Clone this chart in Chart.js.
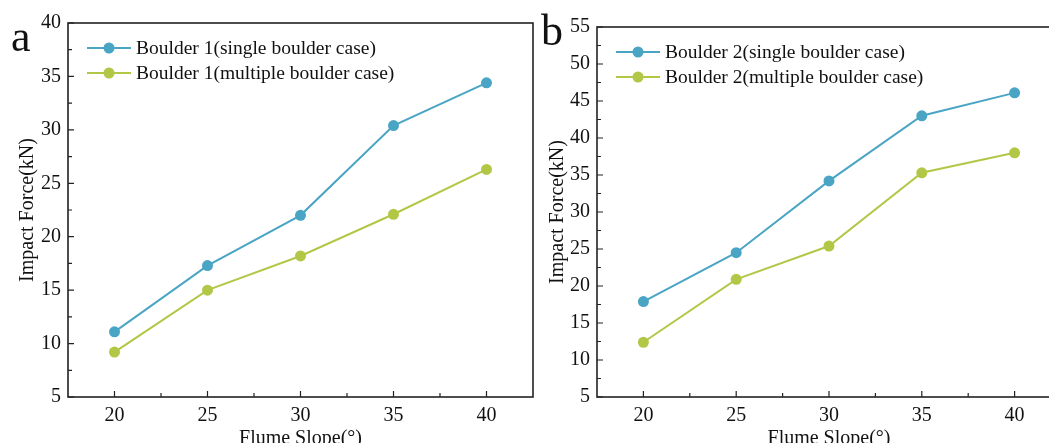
<!DOCTYPE html>
<html>
<head>
<meta charset="utf-8">
<script src="https://cdn.jsdelivr.net/npm/chart.js@4/dist/chart.umd.min.js"></script>
<style>
  html, body { margin: 0; padding: 0; background: #fff; overflow: hidden; width: 1049px; height: 443px; }
  .panel { position: absolute; top: 0; }
</style>
</head>
<body>
<div class="panel" style="left:0px"><canvas id="chartA" width="545" height="460"></canvas></div>
<div class="panel" style="left:530px"><canvas id="chartB" width="545" height="460"></canvas></div>
<script>
// --- Data ---
const slopes = [20, 25, 30, 35, 40];
const xTicks = [20, 25, 30, 35, 40];

const singleA = [11.1, 17.3, 22.0, 30.4, 34.4];
const multiA  = [9.2, 15.0, 18.2, 22.1, 26.3];
const yTicksA = [5, 10, 15, 20, 25, 30, 35, 40];

const singleB = [17.9, 24.5, 34.2, 43.0, 46.1];
const multiB  = [12.4, 20.9, 25.4, 35.3, 38.0];
const yTicksB = [5, 10, 15, 20, 25, 30, 35, 40, 45, 50, 55];

const BLUE = '#4aa5c5';
const GREEN = '#b3c747';
const SERIF = '"Liberation Serif", "Times New Roman", serif';

function toPoints(vals) {
    return slopes.map((s, i) => ({ x: s, y: vals[i] }));
}

// frame, inward ticks, legend and panel letter
function decorPlugin(letter, letterPos) {
    return {
        id: 'decor',
        afterDraw(chart) {
            const ctx = chart.ctx;
            const a = chart.chartArea;
            const x = chart.scales.x, y = chart.scales.y;
            ctx.save();
            ctx.strokeStyle = '#222';
            ctx.lineWidth = 1.6;
            ctx.strokeRect(a.left, a.top, a.right - a.left, a.bottom - a.top);

            ctx.lineWidth = 1.2;
            ctx.beginPath();
            xTicks.forEach((v, i) => {
                const px = x.getPixelForValue(v);
                ctx.moveTo(px, a.bottom); ctx.lineTo(px, a.bottom - 6);
                if (i < xTicks.length - 1) {
                    const mx = x.getPixelForValue(v + 2.5);
                    ctx.moveTo(mx, a.bottom); ctx.lineTo(mx, a.bottom - 4);
                }
            });
            const yt = y.ticks.map(t => t.value);
            yt.forEach((v, i) => {
                const py = y.getPixelForValue(v);
                ctx.moveTo(a.left, py); ctx.lineTo(a.left + 6, py);
                if (i < yt.length - 1) {
                    const my = y.getPixelForValue(v + 2.5);
                    ctx.moveTo(a.left, my); ctx.lineTo(a.left + 4, my);
                }
            });
            ctx.stroke();

            // legend
            ctx.font = '19.5px ' + SERIF;
            ctx.textBaseline = 'middle';
            chart.data.datasets.forEach((ds, i) => {
                const ly = a.top + 25 + i * 25;
                const x0 = a.left + 19, x1 = a.left + 63;
                ctx.strokeStyle = ds.borderColor;
                ctx.lineWidth = 2;
                ctx.beginPath(); ctx.moveTo(x0, ly); ctx.lineTo(x1, ly); ctx.stroke();
                ctx.fillStyle = ds.borderColor;
                ctx.beginPath(); ctx.arc((x0 + x1) / 2, ly, 5.5, 0, Math.PI * 2); ctx.fill();
                ctx.fillStyle = '#111';
                ctx.fillText(ds.label, a.left + 68, ly + 1);
            });

            // panel letter
            ctx.font = '44px ' + SERIF;
            ctx.textBaseline = 'alphabetic';
            ctx.fillStyle = '#111';
            ctx.fillText(letter, letterPos[0], letterPos[1]);
            ctx.restore();
        }
    };
}

function makeChart(id, num, single, multi, yTicks, yWidth, padTop, padRight, letter, letterPos) {
    return new Chart(document.getElementById(id).getContext('2d'), {
        type: 'line',
        data: {
            datasets: [
                {
                    label: 'Boulder ' + num + '(single boulder case)',
                    data: toPoints(single),
                    borderColor: BLUE,
                    backgroundColor: BLUE,
                    borderWidth: 2,
                    pointRadius: 5.5,
                    pointBorderWidth: 0,
                    tension: 0
                },
                {
                    label: 'Boulder ' + num + '(multiple boulder case)',
                    data: toPoints(multi),
                    borderColor: GREEN,
                    backgroundColor: GREEN,
                    borderWidth: 2,
                    pointRadius: 5.5,
                    pointBorderWidth: 0,
                    tension: 0
                }
            ]
        },
        options: {
            responsive: false,
            animation: false,
            layout: { padding: { top: padTop, right: padRight, left: 0, bottom: 0 } },
            plugins: { legend: { display: false }, tooltip: { enabled: false } },
            scales: {
                x: {
                    type: 'linear',
                    min: 17.5,
                    max: 42.5,
                    afterBuildTicks: s => { s.ticks = xTicks.map(v => ({ value: v })); },
                    afterFit: s => { s.height = 63; },
                    grid: { display: false, drawTicks: false },
                    border: { display: false },
                    ticks: { color: '#111', font: { family: SERIF, size: 20 }, padding: 7 },
                    title: {
                        display: true,
                        text: 'Flume Slope(°)',
                        color: '#111',
                        font: { family: SERIF, size: 20 },
                        padding: { top: 0, bottom: 9 }
                    }
                },
                y: {
                    type: 'linear',
                    min: yTicks[0],
                    max: yTicks[yTicks.length - 1],
                    afterBuildTicks: s => { s.ticks = yTicks.map(v => ({ value: v })); },
                    afterFit: s => { s.width = yWidth; },
                    grid: { display: false, drawTicks: false },
                    border: { display: false },
                    ticks: { color: '#111', font: { family: SERIF, size: 20 }, padding: 7 },
                    title: {
                        display: true,
                        text: 'Impact Force(kN)',
                        color: '#111',
                        font: { family: SERIF, size: 20 },
                        padding: { top: 16, bottom: 4 }
                    }
                }
            }
        },
        plugins: [decorPlugin(letter, letterPos)]
    });
}

makeChart('chartA', 1, singleA, multiA, yTicksA, 68, 23, 12, 'a', [11, 51]);
makeChart('chartB', 2, singleB, multiB, yTicksB, 67, 27, 14, 'b', [11, 45]);
</script>
</body>
</html>
